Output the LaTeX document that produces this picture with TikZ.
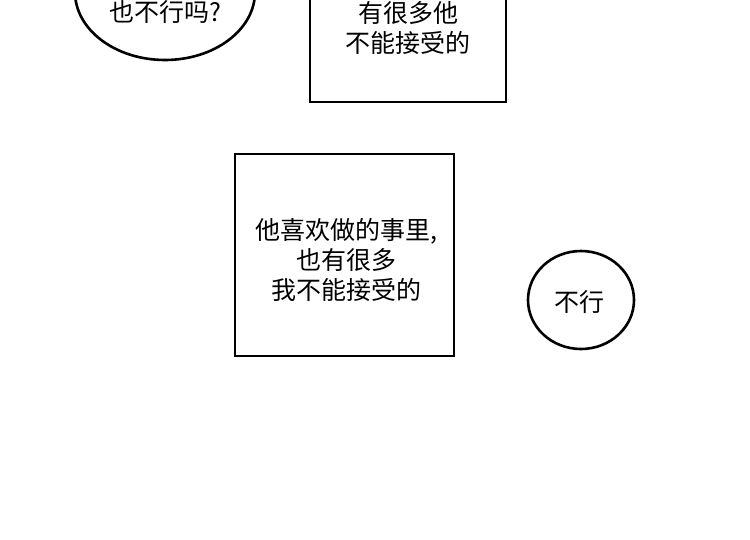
\documentclass[tikz,border=0pt]{standalone}
\usepackage{fontspec}
\newfontfamily\cjk{Noto Sans CJK SC}
\usepackage{tikz}
\usetikzlibrary{shapes.geometric, positioning}

\begin{document}
\begin{tikzpicture}[x=1pt, y=-1pt,
  panelbox/.style={draw, line width=2.8pt, inner sep=0pt},
  bubble/.style={draw, ellipse, line width=2.6pt, inner sep=0pt},
  talk/.style={align=center, font=\cjk\fontsize{25}{30}\selectfont, inner sep=0pt}
]
  \clip (0,0) rectangle (750,539);
  \fill[white] (0,0) rectangle (750,539);

  % Speech bubbles
  \node[bubble, minimum width=180pt, minimum height=136pt] (ask) at (165,-8) {};
  \node[talk] (asktext) at (165,12) {也不行吗?};
  \node[bubble, minimum width=106pt, minimum height=98pt] (refuse) at (581,300) {};
  \node[talk] (refusetext) at (579,302) {不行};

  % Narration boxes
  \node[panelbox, minimum width=196pt, minimum height=162pt] (upper) at (408,21) {};
  \node[talk] (uppertext) at (408,28) {有很多他\\不能接受的};
  \node[panelbox, minimum width=219pt, minimum height=202pt] (middle) at (344.5,255) {};
  \node[talk] (middletext) at (346.5,260) {他喜欢做的事里,\\也有很多\\我不能接受的};
\end{tikzpicture}
\end{document}
